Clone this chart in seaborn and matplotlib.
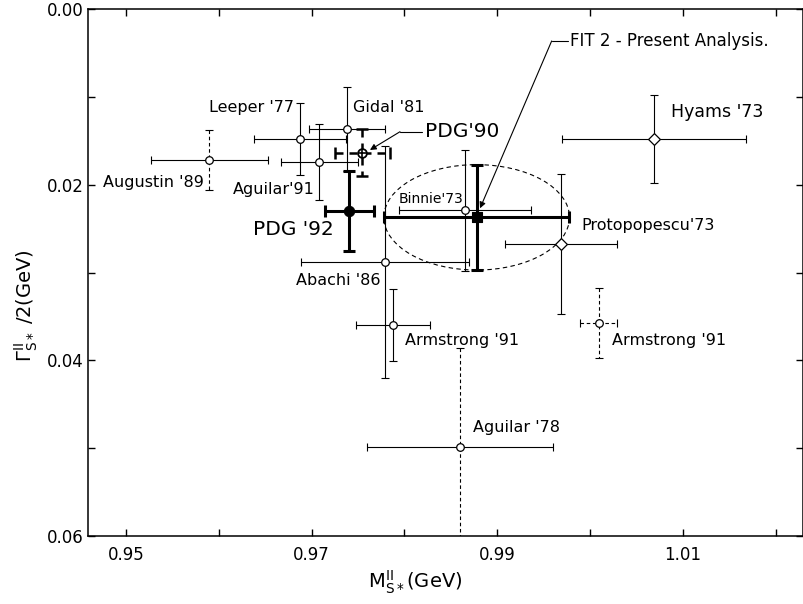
import numpy as np
import pandas as pd
import matplotlib
matplotlib.use("Agg")
import matplotlib.pyplot as plt
from matplotlib.patches import Ellipse
import seaborn as sns

# Measurements of the S* pole: mass M and half-width Gamma/2 (GeV)
labels = ["Leeper '77", "Aguilar'91", "Gidal '81", "Abachi '86", "Binnie'73",
          "Armstrong '91", "Augustin '89", "Aguilar '78", "Armstrong '91",
          "PDG'90", "PDG '92", "Hyams '73", "Protopopescu'73",
          "FIT 2 - Present Analysis."]
mass = [0.96875, 0.97085, 0.97381, 0.97791, 0.98653,
        0.97880, 0.95898, 0.98596, 1.00094,
        0.97548, 0.97408, 1.00690, 0.99688,
        0.98779]
half_width = [0.01484, 0.01742, 0.01370, 0.02877, 0.02292,
              0.03594, 0.01723, 0.04990, 0.03579,
              0.01634, 0.02300, 0.01480, 0.02676,
              0.02372]
mass_err = [0.0050, 0.0041, 0.0041, 0.0090, 0.0071,
            0.0040, 0.0063, 0.0100, 0.0020,
            0.0030, 0.0026, 0.0099, 0.0060,
            0.0100]
half_width_err = [0.0041, 0.0043, 0.0048, 0.0132, 0.0069,
                  0.0041, 0.0034, 0.0113, 0.0040,
                  0.0027, 0.0046, 0.0050, 0.0080,
                  0.0060]
kind = ["open", "open", "open", "open", "open",
        "open", "open", "open", "open",
        "pdg90", "pdg92", "diamond", "diamond",
        "fit"]

x_ticks = [0.95, 0.96, 0.97, 0.98, 0.99, 1.00, 1.01, 1.02]
x_tick_labels = ["0.95", "", "0.97", "", "0.99", "", "1.01", ""]
y_ticks = [0.00, 0.01, 0.02, 0.03, 0.04, 0.05, 0.06]
y_tick_labels = ["0.00", "", "0.02", "", "0.04", "", "0.06"]

# drawing style per measurement
x_dashed = [False, False, False, False, False, False, False, False, True,
            True, False, False, False, False]
y_dashed = [False, False, False, False, False, False, True, True, True,
            True, False, False, False, False]
bar_lw = [0.8] * 9 + [1.8, 2.2, 0.8, 0.8, 2.2]

# label placement (data coordinates)
label_x = [0.96810, 0.97037, 0.97449, 0.97748, 0.97934,
           0.98006, 0.95841, 0.98742, 1.00234,
           0.98222, 0.97241, 1.00873, 0.99911,
           0.99784]
label_y = [0.01119, 0.02053, 0.01119, 0.03093, 0.02163,
           0.03777, 0.01978, 0.04767, 0.03777,
           0.01397, 0.02505, 0.01169, 0.02467,
           0.00364]
label_ha = ["right", "right", "left", "right", "left",
            "left", "right", "left", "left",
            "left", "right", "left", "left",
            "left"]
label_size = [11.5, 11.5, 11.5, 11.5, 10, 11.5, 11.5, 11.5, 11.5,
              14.5, 14.5, 12.5, 11.5, 12]

sns.set_theme(style="ticks")
plt.rcParams["font.family"] = ["DejaVu Sans"]
plt.rcParams["mathtext.default"] = "regular"
plt.rcParams["axes.linewidth"] = 1.1
plt.rcParams["text.color"] = "black"
plt.rcParams["axes.labelcolor"] = "black"

fig = plt.figure(figsize=(8.04, 6.04), dpi=100)
ax = fig.add_axes([88 / 804, 1 - 536 / 604, (803 - 88) / 804, (536 - 9) / 604])

# error bars, horizontal and vertical drawn separately so each can be dashed
for i in range(len(mass)):
    for err, dashed in (({"xerr": mass_err[i]}, x_dashed[i]),
                        ({"yerr": half_width_err[i]}, y_dashed[i])):
        heavy = bar_lw[i] > 1
        cont = ax.errorbar(mass[i], half_width[i], fmt="none", ecolor="black",
                           elinewidth=bar_lw[i], capsize=4 if heavy else 2.6,
                           capthick=bar_lw[i], zorder=2, **err)
        if dashed:
            cont.lines[2][0].set_linestyle((0, (3.2, 2.4)))

df = pd.DataFrame({"mass": mass, "half_width": half_width, "kind": kind})

sns.scatterplot(data=df[df.kind == "open"], x="mass", y="half_width", ax=ax,
                marker="o", s=30, color="white", edgecolor="black",
                linewidth=0.9, zorder=4)
sns.scatterplot(data=df[df.kind == "diamond"], x="mass", y="half_width", ax=ax,
                marker="D", s=36, color="white", edgecolor="black",
                linewidth=0.9, zorder=4)
sns.scatterplot(data=df[df.kind == "pdg92"], x="mass", y="half_width", ax=ax,
                marker="o", s=55, color="black", edgecolor="black",
                linewidth=0.8, zorder=4)
sns.scatterplot(data=df[df.kind == "fit"], x="mass", y="half_width", ax=ax,
                marker="s", s=60, color="black", edgecolor="black",
                linewidth=0.8, zorder=4)
sns.scatterplot(data=df[df.kind == "pdg90"], x="mass", y="half_width", ax=ax,
                marker="o", s=40, color="white", edgecolor="black",
                linewidth=1.3, zorder=4)
sns.scatterplot(data=df[df.kind == "pdg90"], x="mass", y="half_width", ax=ax,
                marker="+", s=30, color="black", linewidth=1.2, zorder=5)

# confidence contour around the fit
fit = df[df.kind == "fit"].index[0]
ax.add_patch(Ellipse((mass[fit], half_width[fit]), width=2 * mass_err[fit],
                     height=2 * half_width_err[fit], fill=False,
                     edgecolor="black", lw=0.8, ls=(0, (4, 3)), zorder=1))

# labels
for i in range(len(labels)):
    ax.text(label_x[i], label_y[i], labels[i], ha=label_ha[i], va="center",
            fontsize=label_size[i], color="black", zorder=6)

# leader lines to PDG'90 and the fit
arrow = dict(arrowstyle="-|>", color="black", lw=0.8, mutation_scale=9,
             shrinkA=0, shrinkB=0)
ax.plot([0.97953, 0.98190], [0.01397, 0.01397], color="black", lw=0.8)
ax.annotate("", xy=(0.97629, 0.01605), xytext=(0.97953, 0.01397),
            arrowprops=arrow)
ax.plot([0.99587, 0.99763], [0.00364, 0.00364], color="black", lw=0.8)
ax.annotate("", xy=(0.98815, 0.02269), xytext=(0.99587, 0.00364),
            arrowprops=arrow)

ax.set_xlim(0.94591, 1.02295)
ax.set_ylim(0.06, 0.0)
ax.set_xticks(x_ticks)
ax.set_xticklabels(x_tick_labels)
ax.set_yticks(y_ticks)
ax.set_yticklabels(y_tick_labels)
ax.tick_params(direction="in", length=5, width=1, top=True, right=True,
               labelsize=12, colors="black")
ax.tick_params(axis="x", pad=7)
ax.tick_params(axis="y", pad=3)
for side in ax.spines.values():
    side.set_color("black")
ax.set_xlabel("")
ax.set_ylabel("")

fig.text(415 / 804, 1 - 582 / 604, r"$M^{\mathrm{II}}_{S*}$(GeV)",
         ha="center", va="center", fontsize=14, color="black")
fig.text(26 / 804, 1 - 306 / 604, r"$\Gamma^{\mathrm{II}}_{S*}$ /2(GeV)",
         ha="center", va="center", rotation=90, fontsize=14, color="black")

fig.savefig("out.png", dpi=100, facecolor="white")
